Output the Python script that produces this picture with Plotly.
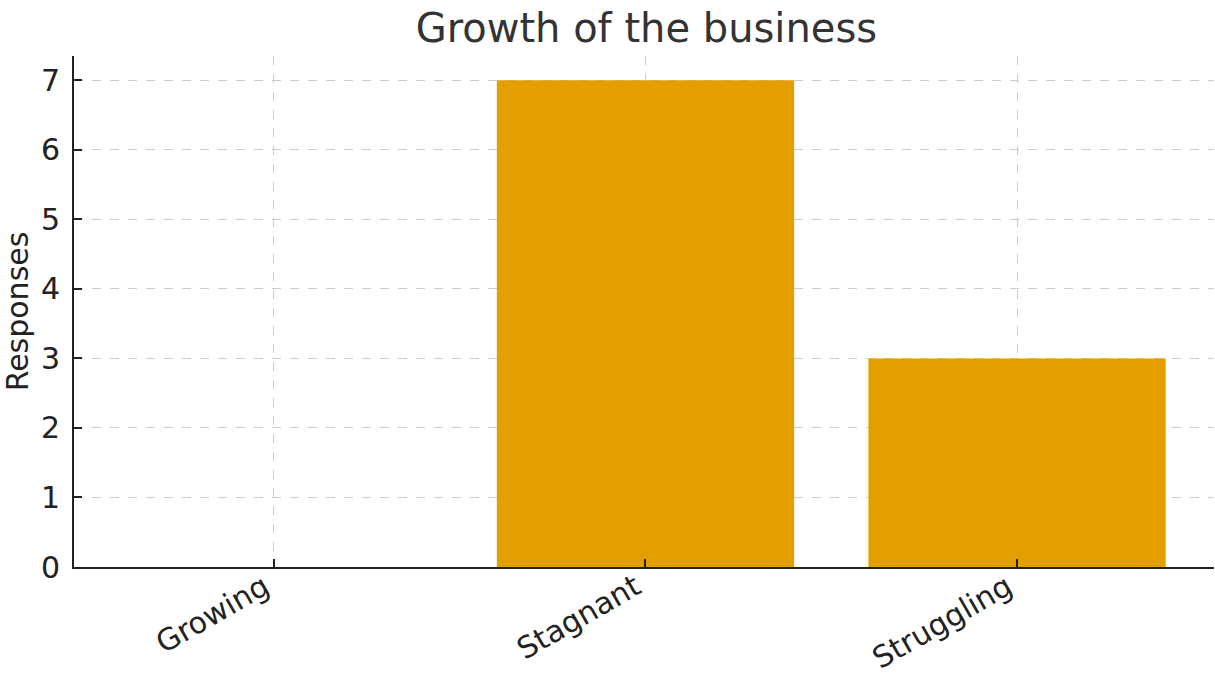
import plotly.graph_objects as go

# Survey answers: how is the business doing?
categories = ["Growing", "Stagnant", "Struggling"]
responses = [0, 7, 3]
y_ticks = [0, 1, 2, 3, 4, 5, 6, 7]

BAR_COLOR = "#E39F00"
AXIS_COLOR = "#222222"
GRID_COLOR = "#cccccc"
FONT = "DejaVu Sans"

fig = go.Figure(
    go.Bar(
        x=categories,
        y=responses,
        width=0.8,
        marker=dict(color=BAR_COLOR, line=dict(width=0)),
    )
)

fig.update_layout(
    width=1215,
    height=675,
    margin=dict(l=74, r=1, t=56, b=108),
    paper_bgcolor="white",
    plot_bgcolor="white",
    showlegend=False,
    font=dict(family=FONT, color="#222222", size=30),
    title=dict(
        text="Growth of the business",
        x=0.532,
        xanchor="center",
        y=1 - 28 / 675,
        yanchor="middle",
        yref="container",
        font=dict(family=FONT, size=40, color="#333333"),
    ),
    bargap=0.2,
)

fig.update_xaxes(
    range=[-0.538, 2.53],
    automargin=False,
    showline=True,
    linecolor=AXIS_COLOR,
    linewidth=2,
    ticks="inside",
    ticklen=8,
    tickwidth=2,
    tickcolor=AXIS_COLOR,
    tickangle=-30,
    ticklabelstandoff=-11,
    ticklabelshift=-10,
    tickfont=dict(family=FONT, size=30, color="#222222"),
    showgrid=True,
    gridcolor=GRID_COLOR,
    gridwidth=1,
    griddash="dash",
    zeroline=False,
)

fig.update_yaxes(
    range=[0, 7.35],
    automargin=False,
    tickvals=y_ticks,
    showline=True,
    linecolor=AXIS_COLOR,
    linewidth=2,
    ticks="inside",
    ticklen=8,
    tickwidth=2,
    tickcolor=AXIS_COLOR,
    ticklabelstandoff=6,
    tickfont=dict(family=FONT, size=30, color="#222222"),
    showgrid=True,
    gridcolor=GRID_COLOR,
    gridwidth=1,
    griddash="dash",
    zeroline=False,
    title=dict(text="Responses", standoff=6, font=dict(family=FONT, size=30, color="#222222")),
)

fig.write_html("out.html")
